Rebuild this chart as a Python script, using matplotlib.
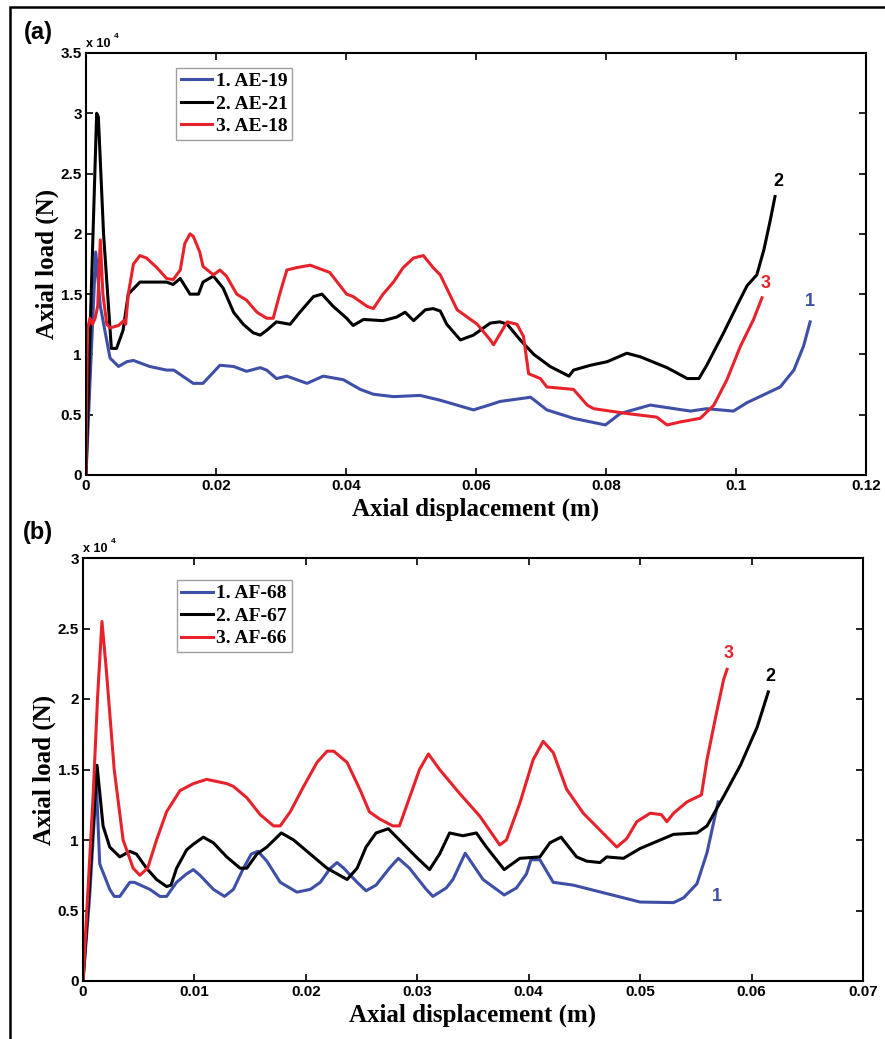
import matplotlib
matplotlib.use("Agg")
import matplotlib.pyplot as plt
from matplotlib.patches import Rectangle

# ---- panel (a) data, load in units of 1e4 N ----
ae19_x = [0, 0.0008, 0.0015, 0.0022, 0.0037, 0.005, 0.0063, 0.0073, 0.0098, 0.0124, 0.0135,
          0.0165, 0.018, 0.0206, 0.0227, 0.0247, 0.0268, 0.0278, 0.0293, 0.0309, 0.034,
          0.0365, 0.0396, 0.0422, 0.0442, 0.0473, 0.0514, 0.0545, 0.0596, 0.062, 0.0637,
          0.0684, 0.0709, 0.075, 0.0799, 0.0822, 0.0868, 0.093, 0.0955, 0.0996, 0.1017,
          0.1068, 0.1089, 0.1104, 0.1114]
ae19_y = [0, 1.0, 1.85, 1.4, 0.97, 0.9, 0.94, 0.95, 0.9, 0.87, 0.87,
          0.76, 0.76, 0.91, 0.9, 0.86, 0.89, 0.87, 0.80, 0.82, 0.76,
          0.82, 0.79, 0.71, 0.67, 0.65, 0.66, 0.62, 0.54, 0.58, 0.61,
          0.645, 0.54, 0.47, 0.415, 0.51, 0.58, 0.53, 0.55, 0.53, 0.6,
          0.73, 0.87, 1.07, 1.27]

ae21_x = [0, 0.0008, 0.00164, 0.0019, 0.0027, 0.0039, 0.0047, 0.0057, 0.0065, 0.0083, 0.0124,
          0.0134, 0.0145, 0.016, 0.0173, 0.018, 0.0196, 0.0211, 0.0227, 0.0242, 0.0257,
          0.0268, 0.0278, 0.0293, 0.0314, 0.0329, 0.035, 0.0363, 0.038, 0.0401, 0.0411,
          0.0427, 0.0457, 0.0478, 0.0491, 0.0504, 0.0522, 0.0534, 0.0545, 0.0555, 0.0576,
          0.0596, 0.0622, 0.0637, 0.0648, 0.0668, 0.0689, 0.0714, 0.0743, 0.075, 0.0776,
          0.0802, 0.0832, 0.0853, 0.0894, 0.0925, 0.0943, 0.0955, 0.0981, 0.1002, 0.1017,
          0.1032, 0.1043, 0.1053, 0.106]
ae21_y = [0, 1.5, 3.0, 2.97, 2.0, 1.05, 1.05, 1.2, 1.5, 1.6, 1.6,
          1.58, 1.63, 1.5, 1.5, 1.6, 1.65, 1.55, 1.35, 1.25, 1.18,
          1.16, 1.2, 1.27, 1.25, 1.35, 1.48, 1.5, 1.4, 1.3, 1.24,
          1.29, 1.28, 1.31, 1.35, 1.28, 1.37, 1.38, 1.36, 1.25, 1.12,
          1.16, 1.26, 1.27, 1.25, 1.12, 1.0, 0.9, 0.82, 0.87, 0.91,
          0.94, 1.01, 0.98, 0.89, 0.80, 0.80, 0.91, 1.18, 1.41, 1.57,
          1.66, 1.87, 2.12, 2.31]

ae18_x = [0, 0.0002, 0.0006, 0.001, 0.0014, 0.0018, 0.0022, 0.0026, 0.0032, 0.0037, 0.005,
          0.0058, 0.0061, 0.0065, 0.0073, 0.0083, 0.0093, 0.0109, 0.0124, 0.0134, 0.0145,
          0.0152, 0.016, 0.0165, 0.0175, 0.018, 0.0196, 0.0206, 0.0216, 0.0232, 0.0247,
          0.0263, 0.0278, 0.0288, 0.0298, 0.0309, 0.0324, 0.0345, 0.0355, 0.0375, 0.0401,
          0.0411, 0.0432, 0.0442, 0.0457, 0.0473, 0.0488, 0.0504, 0.0519, 0.0534, 0.0545,
          0.0571, 0.0602, 0.0622, 0.0627, 0.0648, 0.0663, 0.0673, 0.0681, 0.0699, 0.0709,
          0.075, 0.0771, 0.0781, 0.0832, 0.0878, 0.0894, 0.0914, 0.0945, 0.0966, 0.0986,
          0.1007, 0.1027, 0.104]
ae18_y = [0, 1.2, 1.3, 1.25, 1.3, 1.4, 1.95, 1.5, 1.25, 1.22, 1.24,
          1.28, 1.25, 1.5, 1.75, 1.82, 1.8, 1.72, 1.63, 1.62, 1.7,
          1.92, 2.0, 1.98, 1.85, 1.73, 1.66, 1.7, 1.65, 1.5, 1.45,
          1.35, 1.3, 1.3, 1.5, 1.7, 1.72, 1.74, 1.72, 1.68, 1.5,
          1.48, 1.4, 1.38, 1.5, 1.6, 1.72, 1.8, 1.82, 1.72, 1.66,
          1.37, 1.25, 1.12, 1.08, 1.27, 1.25, 1.15, 0.84, 0.80, 0.73,
          0.71, 0.58, 0.55, 0.51, 0.48, 0.415, 0.44, 0.47, 0.58, 0.79,
          1.07, 1.29, 1.47]

# ---- panel (b) data ----
af68_x = [0, 0.0006, 0.0012, 0.0015, 0.0024, 0.0028, 0.0033, 0.0042, 0.0046, 0.006, 0.0069,
          0.0075, 0.0084, 0.0093, 0.0099, 0.0105, 0.0117, 0.0127, 0.0135, 0.0144, 0.0151,
          0.0157, 0.0165, 0.0177, 0.0192, 0.0204, 0.0213, 0.0222, 0.0228, 0.0234, 0.0246,
          0.0254, 0.0263, 0.0275, 0.0283, 0.0293, 0.0308, 0.0314, 0.0326, 0.0332, 0.0343,
          0.0359, 0.0378, 0.0389, 0.0398, 0.0402, 0.041, 0.0422, 0.044, 0.047, 0.05,
          0.053, 0.0539, 0.0551, 0.056, 0.057]
af68_y = [0, 0.6, 1.4, 0.83, 0.65, 0.6, 0.6, 0.7, 0.7, 0.65, 0.6,
          0.6, 0.7, 0.76, 0.79, 0.75, 0.65, 0.6, 0.65, 0.8, 0.9,
          0.92, 0.85, 0.7, 0.63, 0.65, 0.7, 0.8, 0.84, 0.8, 0.7,
          0.64, 0.68, 0.8, 0.87, 0.8, 0.65, 0.6, 0.66, 0.72, 0.906,
          0.72, 0.61, 0.66, 0.76, 0.86, 0.86, 0.70, 0.68, 0.62, 0.56,
          0.556, 0.59, 0.69, 0.91, 1.27]

af67_x = [0, 0.0006, 0.00126, 0.0018, 0.0024, 0.0033, 0.0042, 0.0048, 0.0057, 0.0066, 0.0075,
          0.0079, 0.0084, 0.0093, 0.0099, 0.0108, 0.0117, 0.0129, 0.0141, 0.0147, 0.0156,
          0.0165, 0.0178, 0.0189, 0.0204, 0.0219, 0.0237, 0.0246, 0.0254, 0.0263, 0.0274,
          0.0284, 0.0299, 0.0311, 0.032, 0.0329, 0.0341, 0.0353, 0.0362, 0.0378, 0.0392,
          0.041, 0.0419, 0.0429, 0.0443, 0.0452, 0.0464, 0.047, 0.0485, 0.05, 0.053,
          0.0551, 0.056, 0.0575, 0.059, 0.0605, 0.0615]
af67_y = [0, 0.7, 1.53, 1.1, 0.95, 0.88, 0.92, 0.9, 0.8, 0.72, 0.67,
          0.68, 0.8, 0.93, 0.97, 1.02, 0.98, 0.88, 0.8, 0.8, 0.9,
          0.95, 1.05, 1.0, 0.9, 0.8, 0.72, 0.8, 0.95, 1.05, 1.08,
          1.0, 0.88, 0.79, 0.9, 1.05, 1.03, 1.05, 0.95, 0.79, 0.87,
          0.88, 0.98, 1.02, 0.88, 0.85, 0.84, 0.88, 0.87, 0.94, 1.04,
          1.05, 1.10, 1.31, 1.53, 1.8, 2.05]

af66_x = [0, 0.0009, 0.0013, 0.0017, 0.0021, 0.0028, 0.0036, 0.0045, 0.0051, 0.0058, 0.0066,
          0.0075, 0.0087, 0.0099, 0.0111, 0.0129, 0.0135, 0.0147, 0.0159, 0.0171, 0.0177,
          0.0186, 0.0198, 0.021, 0.0219, 0.0225, 0.0237, 0.0249, 0.0257, 0.0266, 0.0278,
          0.0284, 0.0293, 0.0302, 0.031, 0.032, 0.0338, 0.0356, 0.0374, 0.038, 0.0392,
          0.0404, 0.0413, 0.0422, 0.0434, 0.0449, 0.0464, 0.0479, 0.0488, 0.0497, 0.0509,
          0.0519, 0.0524, 0.053, 0.0542, 0.0555, 0.056, 0.0569, 0.0575, 0.0578]
af66_y = [0, 1.3, 2.0, 2.55, 2.2, 1.5, 1.0, 0.8, 0.75, 0.8, 1.0,
          1.2, 1.35, 1.4, 1.43, 1.4, 1.38, 1.3, 1.18, 1.1, 1.1,
          1.2, 1.38, 1.55, 1.63, 1.63, 1.55, 1.35, 1.2, 1.15, 1.1,
          1.1, 1.3, 1.5, 1.61, 1.5, 1.33, 1.17, 0.965, 1.0, 1.26,
          1.57, 1.70, 1.62, 1.36, 1.19, 1.07, 0.95, 1.01, 1.13, 1.19,
          1.18, 1.13, 1.19, 1.27, 1.32, 1.57, 1.92, 2.14, 2.21]

legend_a = ['1. AE-19', '2. AE-21', '3. AE-18']
legend_b = ['1. AF-68', '2. AF-67', '3. AF-66']
xticks_a = [0, 0.02, 0.04, 0.06, 0.08, 0.1, 0.12]
xticklabels_a = ['0', '0.02', '0.04', '0.06', '0.08', '0.1', '0.12']
yticks_a = [0, 0.5, 1, 1.5, 2, 2.5, 3, 3.5]
yticklabels_a = ['0', '0.5', '1', '1.5', '2', '2.5', '3', '3.5']
xticks_b = [0, 0.01, 0.02, 0.03, 0.04, 0.05, 0.06, 0.07]
xticklabels_b = ['0', '0.01', '0.02', '0.03', '0.04', '0.05', '0.06', '0.07']
yticks_b = [0, 0.5, 1, 1.5, 2, 2.5, 3]
yticklabels_b = ['0', '0.5', '1', '1.5', '2', '2.5', '3']

BLUE = '#3d4fa6'
RED = '#e8222b'
BLACK = '#000000'
SANS = 'Liberation Sans'
SERIF = 'Liberation Serif'

fig = plt.figure(figsize=(8.85, 10.39), dpi=100)
fig.patches.append(Rectangle((10 / 885, -0.01), 1.0, 1 - 7 / 1039 + 0.01, transform=fig.transFigure,
                             fill=False, edgecolor='k', linewidth=1.8))


def setup_axes(ax, xlim, ylim, xt, xtl, yt, ytl):
    ax.set_xlim(xlim)
    ax.set_ylim(ylim)
    ax.set_xticks(xt)
    ax.set_xticklabels(xtl, fontfamily=SANS, fontweight='bold', fontsize=11)
    ax.set_yticks(yt)
    ax.set_yticklabels(ytl, fontfamily=SANS, fontweight='bold', fontsize=11)
    ax.tick_params(direction='in', top=True, right=True, length=5, width=1.2, pad=3)
    for s in ax.spines.values():
        s.set_linewidth(1.5)
    ax.set_xlabel('Axial displacement (m)', fontfamily=SERIF, fontweight='bold', fontsize=18, labelpad=3)
    ax.set_ylabel('Axial load (N)', fontfamily=SERIF, fontweight='bold', fontsize=18, labelpad=1)


def add_legend(ax, anchor):
    leg = ax.legend(loc='upper left', bbox_to_anchor=anchor, borderaxespad=0, fancybox=False,
                    edgecolor='#888888', handlelength=1.6, handletextpad=0.2, borderpad=0.25,
                    labelspacing=0.25, prop={'family': SERIF, 'weight': 'bold', 'size': 14})
    leg.get_frame().set_linewidth(1.0)
    return leg


lw = 2.2

# ---- panel (a) ----
ax1 = fig.add_axes([86 / 885, 1 - 475 / 1039, 780 / 885, 422 / 1039])
ax1.plot(ae19_x, ae19_y, color=BLUE, lw=lw, label=legend_a[0])
ax1.plot(ae21_x, ae21_y, color=BLACK, lw=lw, label=legend_a[1])
ax1.plot(ae18_x, ae18_y, color=RED, lw=lw, label=legend_a[2])
setup_axes(ax1, (0, 0.12), (0, 3.5), xticks_a, xticklabels_a, yticks_a, yticklabels_a)
add_legend(ax1, (0.115, 0.965))
ax1.text(ae19_x[-1], ae19_y[-1] + 0.1, '1', color=BLUE, fontfamily=SANS, fontweight='bold', fontsize=13, ha='center', va='bottom')
ax1.text(ae21_x[-1] + 0.0005, ae21_y[-1] + 0.05, '2', color=BLACK, fontfamily=SANS, fontweight='bold', fontsize=13, ha='center', va='bottom')
ax1.text(ae18_x[-1] + 0.0005, ae18_y[-1] + 0.05, '3', color=RED, fontfamily=SANS, fontweight='bold', fontsize=13, ha='center', va='bottom')
ax1.text(0, 1.008, 'x 10', transform=ax1.transAxes, fontfamily=SANS, fontweight='bold', fontsize=9, va='bottom')
ax1.text(0.036, 1.03, '4', transform=ax1.transAxes, fontfamily=SANS, fontweight='bold', fontsize=6, va='bottom')
fig.text(38 / 885, 1 - 33 / 1039, '(a)', fontfamily=SANS, fontweight='bold', fontsize=17, ha='center', va='center')

# ---- panel (b) ----
ax2 = fig.add_axes([83 / 885, 1 - 981 / 1039, 780 / 885, 423 / 1039])
ax2.plot(af68_x, af68_y, color=BLUE, lw=lw, label=legend_b[0])
ax2.plot(af67_x, af67_y, color=BLACK, lw=lw, label=legend_b[1])
ax2.plot(af66_x, af66_y, color=RED, lw=lw, label=legend_b[2])
setup_axes(ax2, (0, 0.07), (0, 3), xticks_b, xticklabels_b, yticks_b, yticklabels_b)
add_legend(ax2, (0.12, 0.948))
ax2.text(0.0569, 0.6, '1', color=BLUE, fontfamily=SANS, fontweight='bold', fontsize=13, ha='center', va='center')
ax2.text(af67_x[-1] + 0.0002, af67_y[-1] + 0.05, '2', color=BLACK, fontfamily=SANS, fontweight='bold', fontsize=13, ha='center', va='bottom')
ax2.text(af66_x[-1] + 0.0001, af66_y[-1] + 0.05, '3', color=RED, fontfamily=SANS, fontweight='bold', fontsize=13, ha='center', va='bottom')
ax2.text(0, 1.008, 'x 10', transform=ax2.transAxes, fontfamily=SANS, fontweight='bold', fontsize=9, va='bottom')
ax2.text(0.036, 1.03, '4', transform=ax2.transAxes, fontfamily=SANS, fontweight='bold', fontsize=6, va='bottom')
fig.text(38 / 885, 1 - 533 / 1039, '(b)', fontfamily=SANS, fontweight='bold', fontsize=17, ha='center', va='center')

fig.savefig('out.png', dpi=100)
